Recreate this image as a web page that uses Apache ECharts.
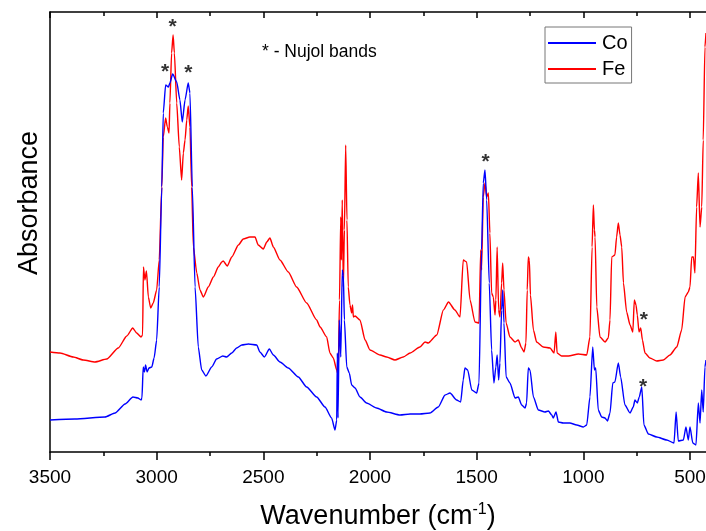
<!DOCTYPE html>
<html>
<head>
<meta charset="utf-8">
<script src="https://cdn.jsdelivr.net/npm/echarts@6/dist/echarts.min.js"></script>
<style>html,body{margin:0;padding:0;background:#fff}#c{width:706px;height:531px}</style>
</head>
<body>
<div id="c"></div>
<script>
// Wavenumber (cm-1) and absorbance (arbitrary units)
const coWavenumber = [3500,3383,3242,3195,3148,3111,3088,3073,3069,3063,3057,3052,3045,3036,3023,3012,3000,2988,2976,2969,2958,2945,2938,2925,2906,2891,2880,2867,2852,2844,2833,2820,2805,2789,2769,2742,2719,2690,2672,2648,2625,2601,2570,2531,2516,2495,2472,2453,2422,2383,2336,2297,2250,2211,2180,2164,2156,2153,2150,2144,2137,2130,2125,2120,2109,2097,2086,2070,2047,2016,1969,1922,1859,1812,1766,1719,1680,1648,1625,1594,1575,1563,1555,1542,1523,1500,1489,1477,1469,1461,1453,1441,1430,1419,1410,1404,1397,1391,1383,1378,1372,1362,1344,1320,1305,1289,1273,1266,1258,1250,1234,1211,1180,1164,1148,1141,1128,1117,1094,1063,1031,1000,984,969,956,948,942,930,914,898,887,875,862,852,836,825,805,781,766,758,747,738,726,716,695,656,609,575,565,555,531,519,508,500,487,472,461,453,445,438,430,425];
const coAbsorbance = [0.32,0.33,0.35,0.39,0.48,0.55,0.54,0.52,0.54,0.85,0.80,0.87,0.80,0.84,0.85,0.94,1.12,1.65,2.65,3.39,3.67,3.65,3.69,3.78,3.70,3.52,3.30,3.52,3.69,3.59,2.65,1.65,1.05,0.82,0.76,0.85,0.93,0.96,0.95,0.99,1.04,1.07,1.08,1.07,1.00,0.95,1.03,0.97,0.90,0.84,0.75,0.65,0.55,0.45,0.34,0.22,0.32,0.99,0.34,1.32,0.95,1.82,1.77,1.32,0.85,0.79,0.67,0.64,0.55,0.49,0.44,0.40,0.37,0.38,0.38,0.39,0.45,0.57,0.59,0.52,0.50,0.72,0.84,0.82,0.62,0.59,0.69,2.02,2.69,2.82,2.52,1.69,1.02,0.69,0.85,0.97,0.72,0.89,1.42,1.62,1.29,0.75,0.69,0.54,0.55,0.47,0.44,0.49,0.84,0.82,0.55,0.42,0.40,0.41,0.37,0.34,0.40,0.30,0.29,0.29,0.27,0.25,0.27,0.55,1.05,0.82,0.84,0.42,0.35,0.34,0.31,0.39,0.69,0.70,0.89,0.75,0.47,0.39,0.45,0.52,0.49,0.55,0.65,0.27,0.18,0.15,0.12,0.09,0.40,0.11,0.12,0.25,0.12,0.25,0.09,0.07,0.49,0.29,0.62,0.40,0.85,0.92];

const feWavenumber = [3500,3453,3391,3344,3289,3234,3180,3140,3112,3094,3073,3066,3062,3055,3048,3039,3028,3016,3000,2988,2976,2969,2958,2950,2942,2938,2930,2923,2917,2906,2894,2883,2875,2867,2859,2852,2844,2836,2828,2812,2797,2781,2758,2734,2711,2695,2688,2669,2648,2617,2594,2563,2539,2524,2500,2484,2469,2453,2422,2383,2344,2297,2250,2234,2203,2188,2172,2156,2149,2143,2137,2134,2130,2125,2120,2114,2108,2102,2094,2086,2082,2078,2070,2047,2023,2000,1953,1922,1883,1844,1812,1766,1742,1727,1687,1656,1632,1602,1578,1563,1547,1531,1508,1489,1481,1477,1469,1461,1453,1445,1438,1430,1422,1414,1410,1404,1397,1391,1383,1378,1372,1362,1344,1320,1305,1289,1278,1269,1263,1258,1253,1248,1234,1219,1188,1156,1137,1129,1123,1102,1070,1023,984,969,959,953,948,945,937,922,898,883,875,867,852,844,836,828,820,812,797,781,768,761,753,747,739,731,723,711,688,656,625,594,562,539,523,508,500,492,484,477,469,461,453,445,438,430,425];
const feAbsorbance = [1.00,0.99,0.95,0.92,0.90,0.93,1.04,1.16,1.24,1.19,1.15,1.17,1.85,1.72,1.81,1.55,1.44,1.49,1.62,1.92,2.65,3.15,3.34,3.25,3.19,3.49,3.99,4.17,3.99,3.49,3.05,2.72,2.99,3.12,3.32,3.46,3.25,2.65,2.05,1.79,1.62,1.55,1.65,1.75,1.85,1.90,1.91,1.86,1.95,2.07,2.13,2.15,2.15,2.07,2.03,2.10,2.14,2.05,1.92,1.80,1.65,1.49,1.32,1.25,1.15,0.99,0.94,0.82,0.77,1.52,2.35,1.92,2.52,1.65,2.22,3.07,2.32,1.65,1.47,1.39,1.47,1.35,1.36,1.32,1.12,1.02,0.97,0.95,0.92,0.95,0.99,1.05,1.10,1.09,1.17,1.42,1.50,1.42,1.35,1.92,1.90,1.52,1.30,1.29,2.02,1.82,2.55,2.69,2.55,2.59,2.19,1.59,1.55,1.37,1.52,2.05,1.42,1.35,1.69,1.89,1.62,1.29,1.15,1.10,1.12,1.04,1.00,1.09,1.62,1.95,1.92,1.57,1.22,1.10,1.05,1.04,0.99,1.20,0.99,0.96,0.96,0.98,0.97,1.15,2.05,2.47,2.22,2.15,1.45,1.15,1.10,1.14,1.32,1.95,1.97,2.15,2.29,2.17,2.05,1.69,1.40,1.27,1.20,1.52,1.47,1.37,1.20,1.24,1.12,0.99,0.94,0.91,0.92,0.97,1.05,1.22,1.55,1.60,1.65,1.95,1.95,1.79,2.45,2.79,2.25,2.45,3.12,4.05,4.19];

// Nujol band markers (*)
const nujolWavenumber = [2961,2925,2852,1458,716,720];
const nujolAbsorbance = [3.80,4.25,3.79,2.90,1.32,0.65];

const majorTicks = [3500,3000,2500,2000,1500,1000,500];
const minorTicks = [3250,2750,2250,1750,1250,750];
const seriesNames = ['Co','Fe'];

const zip = (a,b) => a.map((x,i) => [x, b[i]]);
const FONT = 'Liberation Sans, Arial, sans-serif';
const X_MIN = 425, X_MAX = 3500;

function xAx(extra) {
  return Object.assign({
    type: 'value', min: X_MIN, max: X_MAX, inverse: true,
    splitLine: {show: false},
    axisLine: {show: false},
    axisLabel: {show: false},
    axisTick: {show: false}
  }, extra);
}

const chart = echarts.init(document.getElementById('c'), null, {renderer: 'canvas'});
chart.setOption({
  animation: false,
  backgroundColor: '#fff',
  grid: {left: 50, right: 0, top: 12, bottom: 79, containLabel: false, outerBoundsMode: 'none'},
  legend: {
    data: seriesNames,
    orient: 'vertical',
    left: 545, top: 27,
    padding: [6, 4, 4, 3],
    itemGap: 6,
    itemWidth: 48, itemHeight: 2,
    icon: 'rect',
    borderColor: '#777', borderWidth: 1,
    textStyle: {fontSize: 20, fontFamily: FONT, color: '#000', padding: [0,0,0,1]}
  },
  xAxis: [
    xAx({
      position: 'bottom',
      name: '{a|Wavenumber (cm}{s|-1}{a|)}',
      nameLocation: 'middle', nameGap: 50,
      nameTextStyle: {rich: {
        a: {fontSize: 27, fontFamily: FONT, color: '#000'},
        s: {fontSize: 16, fontFamily: FONT, color: '#000', verticalAlign: 'top', padding: [0,0,13,0]}
      }},
      axisLine: {show: true, onZero: false, lineStyle: {color: '#000', width: 1.5}},
      axisLabel: {show: true, customValues: majorTicks, formatter: v => String(v), fontSize: 19, fontFamily: FONT, color: '#000', margin: 16, hideOverlap: false},
      axisTick: {show: true, customValues: majorTicks, inside: false, length: 8, lineStyle: {color: '#000', width: 1.5}}
    }),
    xAx({
      position: 'bottom',
      axisTick: {show: true, customValues: minorTicks, inside: false, length: 4, lineStyle: {color: '#000', width: 1.5}}
    }),
    xAx({
      position: 'top',
      axisLine: {show: true, onZero: false, lineStyle: {color: '#000', width: 1.5}},
      axisTick: {show: true, customValues: majorTicks, inside: true, length: 6, lineStyle: {color: '#000', width: 1.5}}
    }),
    xAx({
      position: 'top',
      axisTick: {show: true, customValues: minorTicks, inside: true, length: 4, lineStyle: {color: '#000', width: 1.5}}
    })
  ],
  yAxis: {
    type: 'value', min: 0, max: 4.4,
    axisLine: {show: true, onZero: false, lineStyle: {color: '#000', width: 1.5}},
    axisTick: {show: false}, axisLabel: {show: false}, splitLine: {show: false}
  },
  series: [
    {name: 'Co', type: 'line', data: zip(coWavenumber, coAbsorbance), showSymbol: false, symbol: 'none',
     smooth: 0.2, smoothMonotone: 'x',
     color: '#0000ff', lineStyle: {color: '#0000ff', width: 1.4}, z: 3},
    {name: 'Fe', type: 'line', data: zip(feWavenumber, feAbsorbance), showSymbol: false, symbol: 'none',
     smooth: 0.2, smoothMonotone: 'x',
     color: '#ff0000', lineStyle: {color: '#ff0000', width: 1.4}, z: 2},
    {name: 'nujol', type: 'scatter', data: zip(nujolWavenumber, nujolAbsorbance), symbolSize: 2,
     itemStyle: {color: 'rgba(0,0,0,0)'}, silent: true, z: 5,
     labelLayout: {hideOverlap: false},
     label: {show: true, formatter: '*', position: 'inside', offset: [0, 9], fontSize: 21, fontWeight: 'bold', fontFamily: FONT, color: '#000'}}
  ],
  graphic: [
    {type: 'text', left: 262, top: 43, style: {text: '* - Nujol bands', fontSize: 17.5, fontFamily: FONT, fill: '#000'}},
    {type: 'text', x: 30, y: 203, rotation: Math.PI / 2,
     style: {text: 'Absorbance', fontSize: 27, fontFamily: FONT, fill: '#000', align: 'center', verticalAlign: 'middle'}}
  ]
});
</script>
</body>
</html>
